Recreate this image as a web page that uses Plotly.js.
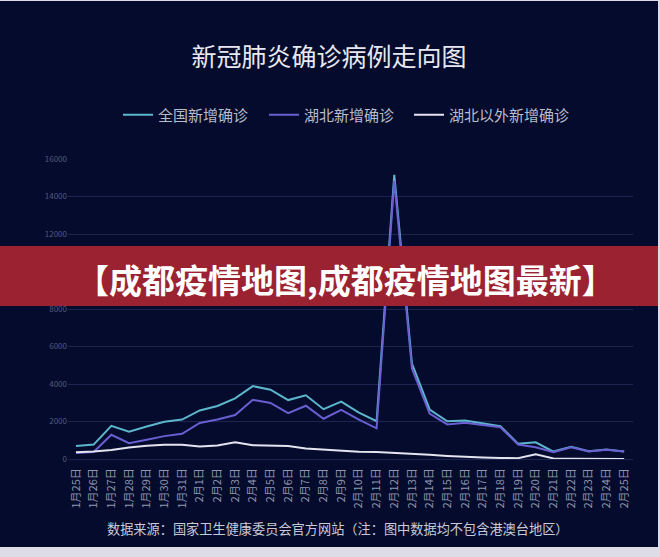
<!DOCTYPE html>
<html><head><meta charset="utf-8">
<script src="https://cdn.plot.ly/plotly-3.0.1.min.js"></script>
<style>
html,body{margin:0;padding:0;background:#dcdde6;width:660px;height:557px;overflow:hidden;}
#chart{position:absolute;left:0;top:1px;width:658px;height:546px;}
</style></head>
<body><div id="chart"></div>
<script>
const dates = ["1月25日","1月26日","1月27日","1月28日","1月29日","1月30日","1月31日","2月1日","2月2日","2月3日","2月4日","2月5日","2月6日","2月7日","2月8日","2月9日","2月10日","2月11日","2月12日","2月13日","2月14日","2月15日","2月16日","2月17日","2月18日","2月19日","2月20日","2月21日","2月22日","2月23日","2月24日","2月25日"];
const national = [688,769,1771,1459,1737,1982,2102,2590,2829,3235,3887,3694,3143,3399,2656,3062,2478,2015,15152,5090,2641,2009,2048,1886,1749,820,889,397,648,409,508,406];
const hubei = [323,371,1291,840,1032,1220,1347,1921,2103,2345,3156,2987,2447,2841,2147,2618,2097,1638,14840,4823,2420,1843,1933,1807,1693,775,631,366,630,398,499,401];
const outside = [365,398,480,619,705,762,755,669,726,890,731,707,696,558,509,444,381,377,312,267,221,166,115,79,56,45,258,31,18,11,9,5];
const seriesNames = ["全国新增确诊","湖北新增确诊","湖北以外新增确诊"];
const yTicks = [0,2000,4000,6000,8000,10000,12000,14000,16000];
const titleText = "新冠肺炎确诊病例走向图";
const bannerText = "【成都疫情地图,成都疫情地图最新】";
const sourceText = "数据来源：国家卫生健康委员会官方网站（注：图中数据均不包含港澳台地区）";

const F = '"Noto Sans CJK SC", "Noto Sans", sans-serif';
const colors = ['#5cb6cc', '#6a5fd2', '#e4e4f0'];
const seriesData = [national, hubei, outside];
const legendIds = ['legend', 'legend2', 'legend3'];
const traces = seriesData.map((v, i) => ({
  x: dates, y: v, name: seriesNames[i], type: 'scatter', mode: 'lines',
  line: {color: colors[i], width: 2}, legend: legendIds[i]
}));
const legendX = [118, 264, 409];
function mkLegend(px) {
  return {orientation: 'h', x: px/658, xref: 'container', xanchor: 'left', y: 1 - 114/546, yref: 'container', yanchor: 'middle',
    font: {family: F, size: 15, color: '#b8bccc'}, bgcolor: 'rgba(0,0,0,0)', itemwidth: 30};
}
const layout = {
  width: 658, height: 546,
  paper_bgcolor: '#040b2c', plot_bgcolor: '#040b2c',
  margin: {l: 68, r: 25, t: 158, b: 88},
  font: {family: F, color: '#c0c3d2'},
  title: {text: titleText, font: {family: F, size: 25, color: '#e8e8f0'}, x: 0.5, xanchor: 'center', y: 1 - 56/546, yanchor: 'middle', yref: 'container'},
  showlegend: true,
  legend: mkLegend(legendX[0]),
  legend2: mkLegend(legendX[1]),
  legend3: mkLegend(legendX[2]),
  xaxis: {type: 'category', range: [-0.45, 31.5], tickangle: -90, showgrid: false, zeroline: false, showline: false,
    tickfont: {family: F, size: 11, color: '#8f96ae'}, ticks: '', ticklabelstandoff: 6, fixedrange: true},
  yaxis: {range: [0, 16000], tickvals: yTicks, ticktext: yTicks.map(String), showgrid: true, gridcolor: '#1c2550', gridwidth: 1,
    zeroline: true, zerolinecolor: '#1c2550', showline: false, ticks: '',
    tickfont: {family: F, size: 8, color: '#535c7c'}, fixedrange: true},
  shapes: [
    {type: 'rect', xref: 'paper', yref: 'paper', x0: -0.2, x1: 1.1, y0: (458-305)/300, y1: (458-245)/300,
      fillcolor: '#9b2230', line: {width: 0}, layer: 'above'}
  ],
  annotations: [
    {text: bannerText, xref: 'paper', yref: 'paper', x: (345-68)/565, y: (458-278)/300, xanchor: 'center', yanchor: 'middle',
      showarrow: false, font: {family: F, size: 33, color: '#ffffff', weight: 'bold'}},
    {text: sourceText, xref: 'paper', yref: 'paper', x: (338-68)/565, y: (458-527)/300, xanchor: 'center', yanchor: 'middle',
      showarrow: false, font: {family: F, size: 13.2, color: '#c8cad8'}}
  ]
};
Plotly.newPlot('chart', traces, layout, {displayModeBar: false, staticPlot: true});
</script></body></html>
